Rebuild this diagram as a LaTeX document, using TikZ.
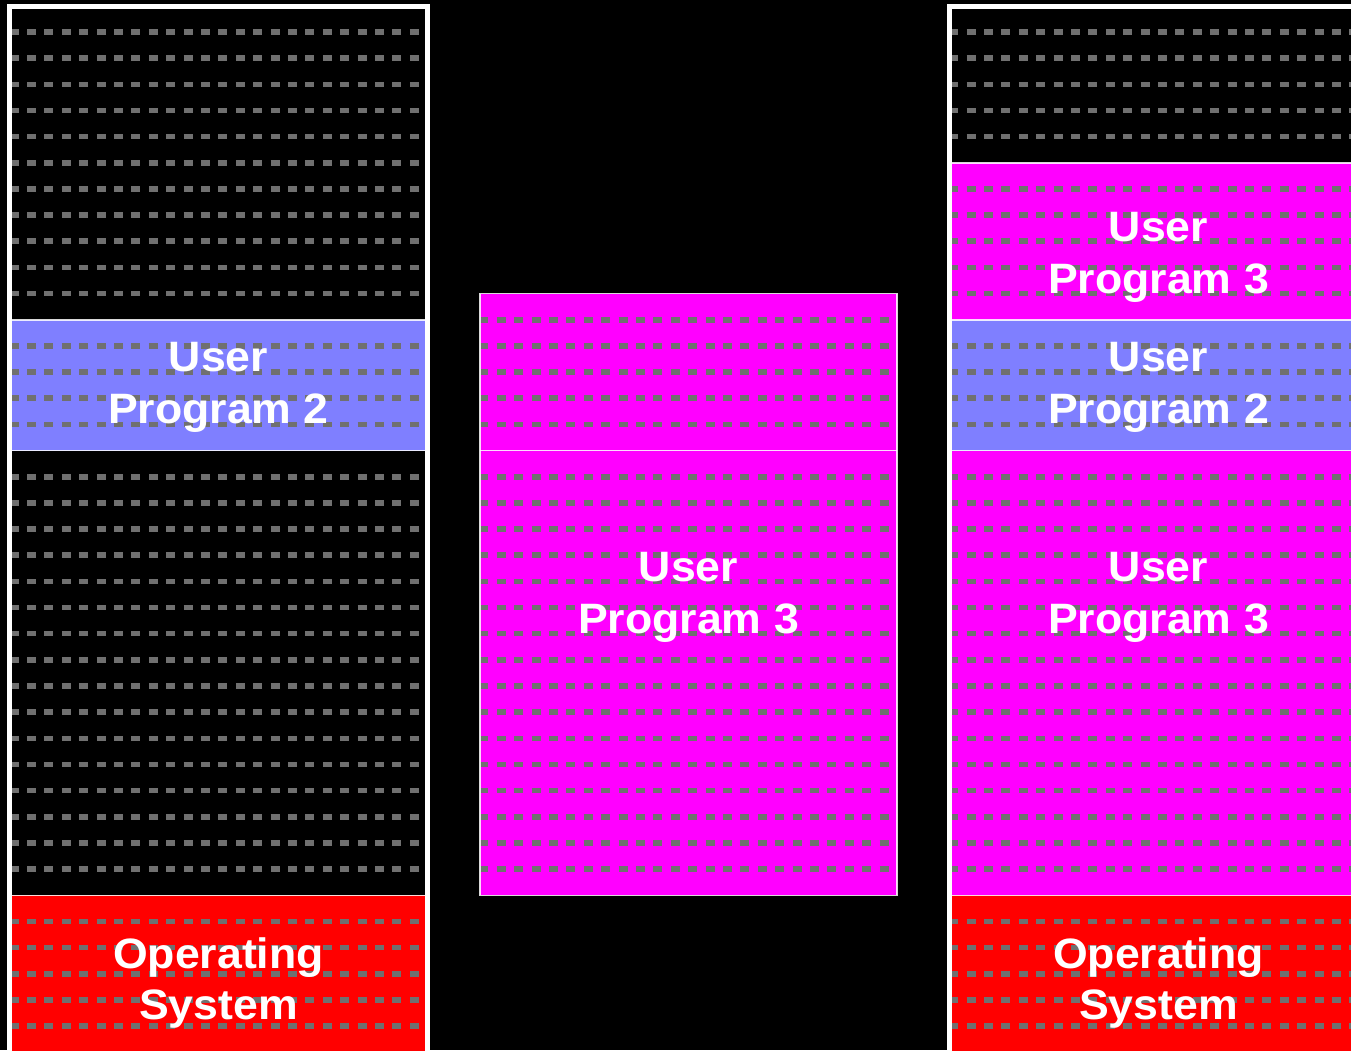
\documentclass[tikz,border=0pt]{standalone}
\usepackage{fontspec}
\newfontfamily\lblfont{Liberation Sans}[FakeStretch=1.05]
\definecolor{dashgray}{RGB}{112,112,112}
\definecolor{ublue}{RGB}{127,127,255}
\definecolor{umag}{RGB}{255,0,255}
\definecolor{ured}{RGB}{255,0,0}
\begin{document}
\begin{tikzpicture}[x=1pt,y=-1pt,
  dashline/.style={draw=dashgray, line width=5.6pt, dash pattern=on 9pt off 8.4pt},
  region/.style={draw=white, draw opacity=0.85, line width=1.5pt},
  frame/.style={draw=white, line width=5pt, line join=miter},
  lbl/.style={text=white, font=\lblfont\bfseries\fontsize{42.5}{50}\selectfont, anchor=base, inner sep=0pt}]
\useasboundingbox[fill=black] (0,0) rectangle (1351,1050);
% ---------- left column ----------
\fill[black] (12,8.7) rectangle (425,1060);
\fill[ublue] (12,319.8) rectangle (425,450.6);
\fill[ured] (12,895.3) rectangle (425,1060);
\begin{scope}
  \clip (12,8) rectangle (425,1060);
  \foreach \k in {0,1,...,10,12,13,14,15,17,18,...,32,34,35,36,37,38}
    \draw[dashline] (9.6,{32+26.16*\k}) -- (440,{32+26.16*\k});
\end{scope}
\draw[region] (12,319.8) -- (425,319.8);
\draw[region] (12,450.6) -- (425,450.6);
\draw[region] (12,895.3) -- (425,895.3);
\draw[frame] (9.8,1060) -- (9.8,6.4) -- (427.5,6.4) -- (427.5,1060);
% ---------- middle column ----------
\fill[umag] (480,293.6) rectangle (897,895.3);
\begin{scope}
  \clip (480,293.6) rectangle (897,895.3);
  \foreach \k in {11,12,13,14,15,17,18,...,32}
    \draw[dashline] (9.6,{32+26.16*\k}) -- (900,{32+26.16*\k});
\end{scope}
\draw[region] (480,293.6) rectangle (897,895.3);
\draw[region] (480,450.6) -- (897,450.6);
% ---------- right column ----------
\fill[black] (952,8.7) rectangle (1365,1060);
\fill[umag] (952,162.8) rectangle (1365,319.8);
\fill[ublue] (952,319.8) rectangle (1365,450.6);
\fill[umag] (952,450.6) rectangle (1365,895.3);
\fill[ured] (952,895.3) rectangle (1365,1060);
\begin{scope}
  \clip (952,8) rectangle (1365,1060);
  \foreach \k in {0,1,2,3,4,6,7,8,9,10,12,13,14,15,17,18,...,32,34,35,36,37,38}
    \draw[dashline] (9.6,{32+26.16*\k}) -- (1370,{32+26.16*\k});
\end{scope}
\draw[region] (952,162.8) -- (1365,162.8);
\draw[region] (952,319.8) -- (1365,319.8);
\draw[region] (952,450.6) -- (1365,450.6);
\draw[region] (952,895.3) -- (1365,895.3);
\draw[frame] (949.8,1060) -- (949.8,6.4) -- (1367.5,6.4) -- (1367.5,1060);
% ---------- labels ----------
\node[lbl] (lUa) at (218.5,371.7) {User};
\node[lbl] (lUb) at (218.5,423.3) {Program 2};
\node[lbl] (lOa) at (218.5,968.3) {Operating};
\node[lbl] (lOb) at (218.5,1019.3) {System};
\node[lbl] (mUa) at (688.5,581.7) {User};
\node[lbl] (mUb) at (688.5,633.2) {Program 3};
\node[lbl] (rTa) at (1158.5,241.7) {User};
\node[lbl] (rTb) at (1158.5,293.3) {Program 3};
\node[lbl] (rBa) at (1158.5,371.7) {User};
\node[lbl] (rBb) at (1158.5,423.3) {Program 2};
\node[lbl] (rMa) at (1158.5,581.7) {User};
\node[lbl] (rMb) at (1158.5,633.2) {Program 3};
\node[lbl] (rOa) at (1158.5,968.3) {Operating};
\node[lbl] (rOb) at (1158.5,1019.3) {System};
\end{tikzpicture}
\end{document}
